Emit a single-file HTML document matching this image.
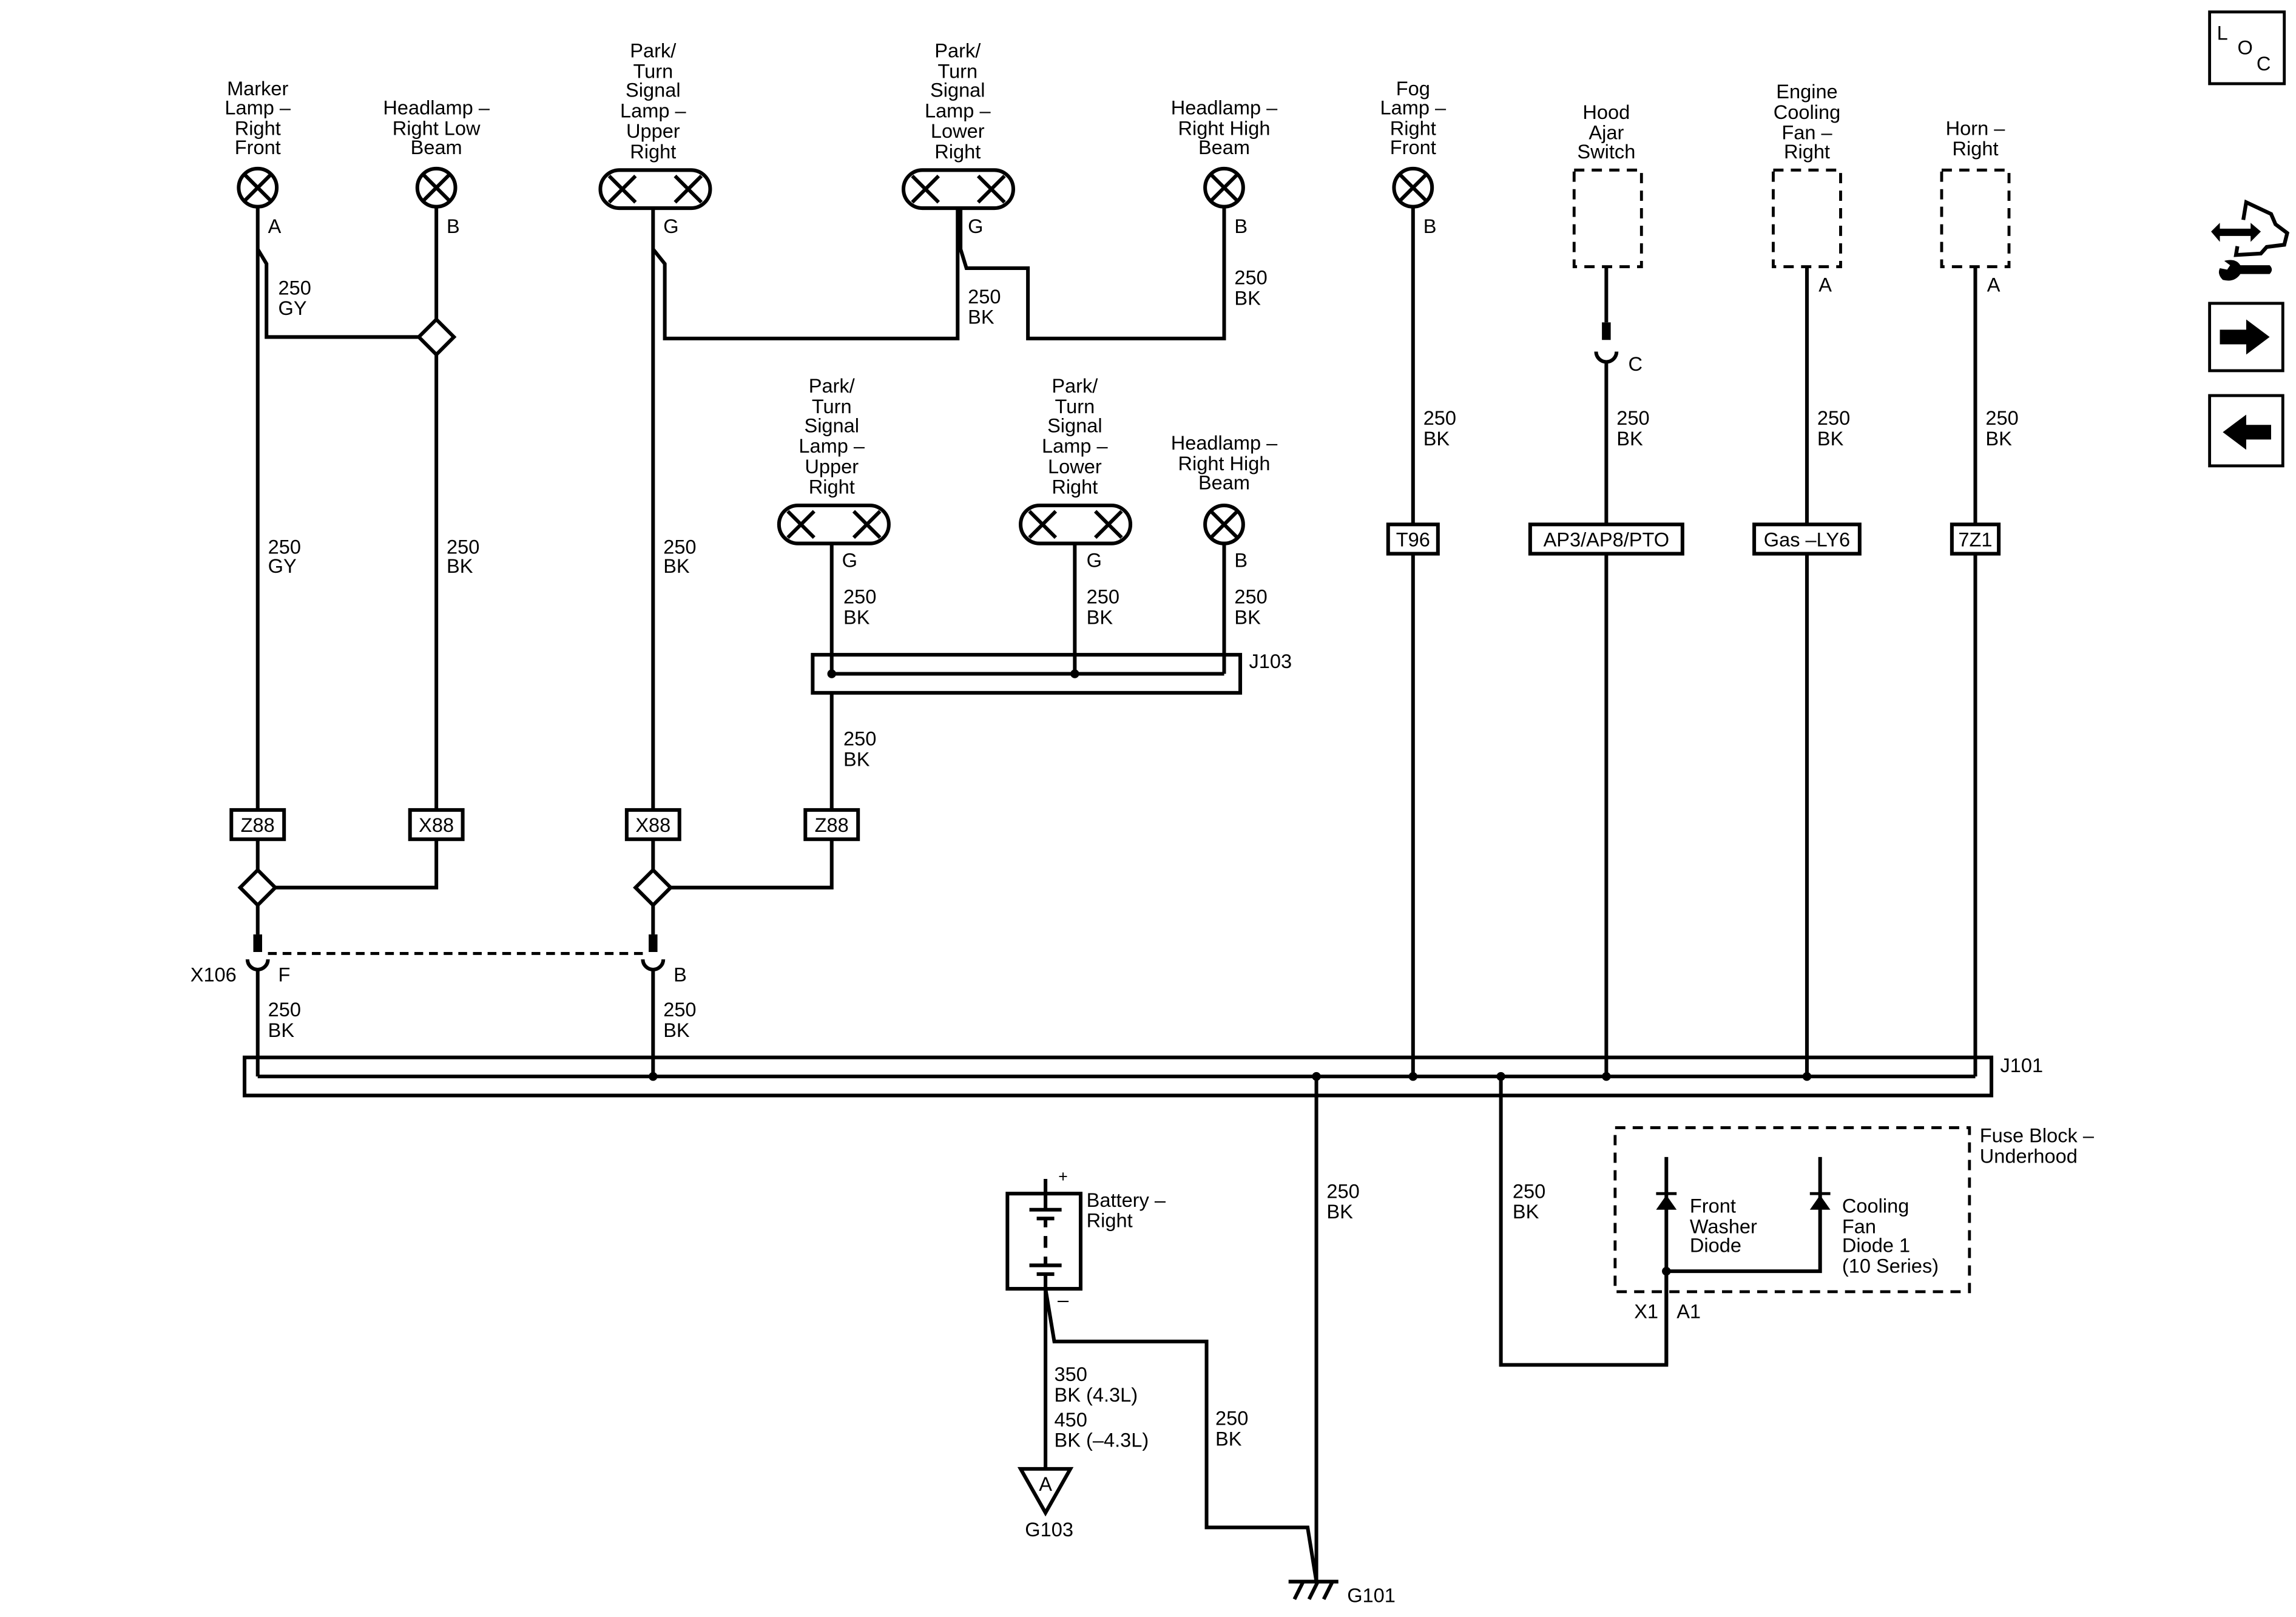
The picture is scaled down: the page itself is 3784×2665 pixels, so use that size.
<!DOCTYPE html>
<html><head><meta charset="utf-8"><style>
html,body{margin:0;padding:0;background:#fff}
svg{display:block}
text{font-family:"Liberation Sans",Arial,sans-serif;font-size:13.5px;fill:#000}
.c{text-anchor:middle}
</style></head><body>
<svg width="3784" height="2665" viewBox="0 0 1568 1104" xmlns="http://www.w3.org/2000/svg">
<g fill="none" stroke="#000" stroke-width="2.5">
<circle cx="176" cy="128" r="13"/><path d="M167 119l18 18M185 119l-18 18"/>
<circle cx="298" cy="128" r="13"/><path d="M289 119l18 18M307 119l-18 18"/>
<rect x="410" y="116" width="75" height="26" rx="13"/><path d="M416 120l18 18M434 120l-18 18M461 120l18 18M479 120l-18 18"/>
<rect x="617" y="116" width="75" height="26" rx="13"/><path d="M623 120l18 18M641 120l-18 18M668 120l18 18M686 120l-18 18"/>
<circle cx="836" cy="128" r="13"/><path d="M827 119l18 18M845 119l-18 18"/>
<circle cx="965" cy="128" r="13"/><path d="M956 119l18 18M974 119l-18 18"/>
<rect x="532" y="345" width="75" height="26" rx="13"/><path d="M538 349l18 18M556 349l-18 18M583 349l18 18M601 349l-18 18"/>
<rect x="697" y="345" width="75" height="26" rx="13"/><path d="M703 349l18 18M721 349l-18 18M748 349l18 18M766 349l-18 18"/>
<circle cx="836" cy="358" r="13"/><path d="M827 349l18 18M845 349l-18 18"/>
<path d="M176 142V553M176 170L182 180V230H286M298 142V218M298 242V553"/>
<path d="M298 218L310 230L298 242L286 230Z"/>
<rect x="158" y="553" width="36" height="20"/><rect x="280" y="553" width="36" height="20"/>
<path d="M176 573V594M298 573V606H188M176 618V638"/>
<path d="M176 594L188 606L176 618L164 606Z"/>
<path d="M446 142V553M446 170L454 180V231H654V142M656 142V170L660 183H702V231H836V142"/>
<rect x="428" y="553" width="36" height="20"/><rect x="550" y="553" width="36" height="20"/>
<path d="M446 573V594M568 573V606H458M446 618V638"/>
<path d="M446 594L458 606L446 618L434 606Z"/>
<path d="M568 372V460M734 372V460M836 372V460M568 460H836M568 473V553"/>
<rect x="555" y="447" width="292" height="26"/>
<path d="M169 655a7 7 0 0 0 14 0M439 655a7 7 0 0 0 14 0"/>
<path d="M176 662V735M446 662V735"/>
<path d="M183 651H440" stroke-dasharray="6 4" stroke-width="2"/>
<path d="M965 142V358M965 378V735"/>
<rect x="948" y="358" width="34" height="20"/>
<g stroke-dasharray="7 5" stroke-width="2"><rect x="1075" y="116" width="46" height="66"/><rect x="1211" y="116" width="46" height="66"/><rect x="1326" y="116" width="46" height="66"/><rect x="1103" y="770" width="242" height="112"/></g>
<path d="M1097 182V220M1090 240a7 7 0 0 0 14 0M1097 247V358M1097 378V735"/>
<rect x="1045" y="358" width="104" height="20"/>
<path d="M1234 182V358M1234 378V735"/>
<rect x="1198" y="358" width="72" height="20"/>
<path d="M1349 182V358M1349 378V735"/>
<rect x="1333" y="358" width="32" height="20"/>
<rect x="167" y="722" width="1193" height="26"/>
<path d="M176 735H1349"/>
<path d="M899 735V1080M1025 735V932H1138V790M1138 868H1243V790"/>
<rect x="688" y="815" width="50" height="65"/>
<path d="M714 805V826M703 826H725M708 832H720M714 832V838M714 844V852M714 858V864M703 864H725M708 870H720M714 870V880"/>
<path d="M714 880V1003M714 880L720 916H824V1043H893L899 1080"/>
<path d="M697 1003H731L714 1033Z"/>
<path d="M880 1080H914M884 1092L890 1080M894 1092L900 1080M904 1092L910 1080"/>
<rect x="1509" y="8" width="51" height="49" stroke-width="2"/>
<rect x="1509" y="207" width="50" height="46" stroke-width="2"/>
<rect x="1509" y="270" width="50" height="48" stroke-width="2"/>
<path d="M1532 150L1534 138L1551 146L1554 153L1562 159L1560 167L1548 168.5L1544 173L1527 174L1528 168" stroke-width="2.6"/>
</g>
<g fill="#000">
<rect x="173" y="638" width="6" height="12"/><rect x="443" y="638" width="6" height="12"/><rect x="1094" y="220" width="6" height="12"/>
<circle cx="568" cy="460" r="3"/><circle cx="734" cy="460" r="3"/><circle cx="446" cy="735" r="3"/><circle cx="899" cy="735" r="3"/><circle cx="965" cy="735" r="3"/><circle cx="1025" cy="735" r="3"/><circle cx="1097" cy="735" r="3"/><circle cx="1234" cy="735" r="3"/><circle cx="1138" cy="868" r="3"/>
<path d="M1131 826L1145 826L1138 816Z"/><rect x="1131" y="814" width="14" height="2"/>
<path d="M1236 826L1250 826L1243 816Z"/><rect x="1236" y="814" width="14" height="2"/>
<path d="M1516 225H1534V218L1550 230L1534 242V235H1516Z"/>
<path d="M1551 290H1534V283L1518 295L1534 307V300H1551Z"/>
<path d="M1510 158L1516 152V156H1537V152L1544 158L1537 165V161H1516V165Z"/>
<path d="M1519 178Q1527 176 1530 181H1550Q1553 184 1550 187H1530Q1526 193 1518 191Q1514 187 1516 183L1521 184L1523 181Z"/>
</g>
<path d="M1138 868V932" stroke="#000" stroke-width="2.5"/>
<text x="1514" y="27">L</text><text x="1528" y="37">O</text><text x="1541" y="48">C</text>
<g class="c">
<text x="176" y="65" class="c">Marker</text><text x="176" y="78" class="c">Lamp –</text><text x="176" y="92" class="c">Right</text><text x="176" y="105" class="c">Front</text>
<text x="298" y="78" class="c">Headlamp –</text><text x="298" y="92" class="c">Right Low</text><text x="298" y="105" class="c">Beam</text>
<text x="446" y="39" class="c">Park/</text><text x="446" y="53" class="c">Turn</text><text x="446" y="66" class="c">Signal</text><text x="446" y="80" class="c">Lamp –</text><text x="446" y="94" class="c">Upper</text><text x="446" y="108" class="c">Right</text>
<text x="654" y="39" class="c">Park/</text><text x="654" y="53" class="c">Turn</text><text x="654" y="66" class="c">Signal</text><text x="654" y="80" class="c">Lamp –</text><text x="654" y="94" class="c">Lower</text><text x="654" y="108" class="c">Right</text>
<text x="836" y="78" class="c">Headlamp –</text><text x="836" y="92" class="c">Right High</text><text x="836" y="105" class="c">Beam</text>
<text x="965" y="65" class="c">Fog</text><text x="965" y="78" class="c">Lamp –</text><text x="965" y="92" class="c">Right</text><text x="965" y="105" class="c">Front</text>
<text x="1097" y="81" class="c">Hood</text><text x="1097" y="95" class="c">Ajar</text><text x="1097" y="108" class="c">Switch</text>
<text x="1234" y="67" class="c">Engine</text><text x="1234" y="81" class="c">Cooling</text><text x="1234" y="95" class="c">Fan –</text><text x="1234" y="108" class="c">Right</text>
<text x="1349" y="92" class="c">Horn –</text><text x="1349" y="106" class="c">Right</text>
<text x="568" y="268" class="c">Park/</text><text x="568" y="282" class="c">Turn</text><text x="568" y="295" class="c">Signal</text><text x="568" y="309" class="c">Lamp –</text><text x="568" y="323" class="c">Upper</text><text x="568" y="337" class="c">Right</text>
<text x="734" y="268" class="c">Park/</text><text x="734" y="282" class="c">Turn</text><text x="734" y="295" class="c">Signal</text><text x="734" y="309" class="c">Lamp –</text><text x="734" y="323" class="c">Lower</text><text x="734" y="337" class="c">Right</text>
<text x="836" y="307" class="c">Headlamp –</text><text x="836" y="321" class="c">Right High</text><text x="836" y="334" class="c">Beam</text>
<text x="176" y="568" class="c">Z88</text><text x="298" y="568" class="c">X88</text><text x="446" y="568" class="c">X88</text><text x="568" y="568" class="c">Z88</text>
<text x="965" y="373" class="c">T96</text><text x="1097" y="373" class="c">AP3/AP8/PTO</text><text x="1234" y="373" class="c">Gas –LY6</text><text x="1349" y="373" class="c">7Z1</text>
<text x="714" y="1018" class="c">A</text><text x="726" y="807" class="c" style="font-size:11px">+</text><text x="726" y="892" class="c">–</text>
</g>
<text x="183" y="159">A</text><text x="305" y="159">B</text><text x="453" y="159">G</text><text x="661" y="159">G</text><text x="843" y="159">B</text><text x="972" y="159">B</text>
<text x="1112" y="253">C</text><text x="1242" y="199">A</text><text x="1357" y="199">A</text>
<text x="575" y="387">G</text><text x="742" y="387">G</text><text x="843" y="387">B</text>
<text x="190" y="201">250</text><text x="190" y="215">GY</text>
<text x="183" y="378">250</text><text x="183" y="391">GY</text>
<text x="305" y="378">250</text><text x="305" y="391">BK</text>
<text x="453" y="378">250</text><text x="453" y="391">BK</text>
<text x="661" y="207">250</text><text x="661" y="221">BK</text>
<text x="843" y="194">250</text><text x="843" y="208">BK</text>
<text x="576" y="412">250</text><text x="576" y="426">BK</text>
<text x="742" y="412">250</text><text x="742" y="426">BK</text>
<text x="843" y="412">250</text><text x="843" y="426">BK</text>
<text x="576" y="509">250</text><text x="576" y="523">BK</text>
<text x="853" y="456">J103</text>
<text x="972" y="290">250</text><text x="972" y="304">BK</text>
<text x="1104" y="290">250</text><text x="1104" y="304">BK</text>
<text x="1241" y="290">250</text><text x="1241" y="304">BK</text>
<text x="1356" y="290">250</text><text x="1356" y="304">BK</text>
<text x="130" y="670">X106</text><text x="190" y="670">F</text><text x="460" y="670">B</text>
<text x="183" y="694">250</text><text x="183" y="708">BK</text>
<text x="453" y="694">250</text><text x="453" y="708">BK</text>
<text x="1366" y="732">J101</text>
<text x="906" y="818">250</text><text x="906" y="832">BK</text>
<text x="1033" y="818">250</text><text x="1033" y="832">BK</text>
<text x="1352" y="780">Fuse Block –</text><text x="1352" y="794">Underhood</text>
<text x="1154" y="828">Front</text><text x="1154" y="842">Washer</text><text x="1154" y="855">Diode</text>
<text x="1258" y="828">Cooling</text><text x="1258" y="842">Fan</text><text x="1258" y="855">Diode 1</text><text x="1258" y="869">(10 Series)</text>
<text x="1116" y="900">X1</text><text x="1145" y="900">A1</text>
<text x="742" y="824">Battery –</text><text x="742" y="838">Right</text>
<text x="720" y="943">350</text><text x="720" y="957">BK (4.3L)</text><text x="720" y="974">450</text><text x="720" y="988">BK (–4.3L)</text>
<text x="830" y="973">250</text><text x="830" y="987">BK</text>
<text x="700" y="1049">G103</text><text x="920" y="1094">G101</text>
</svg>
</body></html>
